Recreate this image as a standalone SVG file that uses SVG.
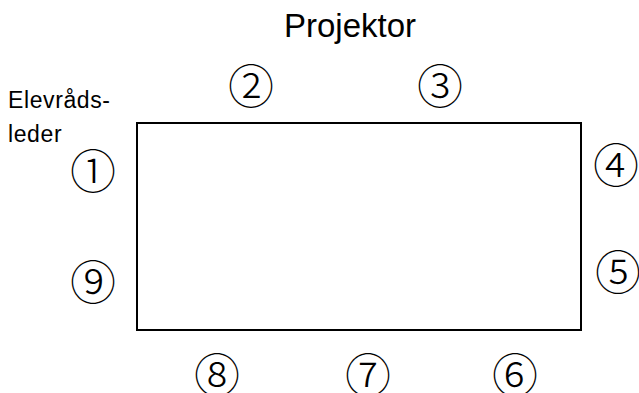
<svg xmlns="http://www.w3.org/2000/svg" width="639" height="393" viewBox="0 0 639 393">
<style>
.lbl{font-family:"Liberation Sans","Noto Sans",Arial,sans-serif;fill:#000}
.num{font-family:"Noto Sans CJK JP","DejaVu Sans",sans-serif;font-size:46px;font-weight:300;fill:#000;text-anchor:middle;dominant-baseline:central}
</style>
<rect width="639" height="393" fill="#fff"/>
<g id="table"><rect x="137" y="123" width="444" height="207" fill="none" stroke="#000" stroke-width="2"/></g>
<g id="projektor"><text class="lbl" x="350" y="37" font-size="33" text-anchor="middle">Projektor</text></g>
<g id="elevradsleder"><text class="lbl" x="8" y="108" font-size="23" letter-spacing="0.6">Elevråds-</text><text class="lbl" x="8" y="142" font-size="23" letter-spacing="0.6">leder</text></g>
<g id="n1"><text class="num" x="93" y="168">①</text></g>
<g id="n2"><text class="num" x="251" y="83">②</text></g>
<g id="n3"><text class="num" x="440" y="83">③</text></g>
<g id="n4"><text class="num" x="616" y="162">④</text></g>
<g id="n5"><text class="num" x="618" y="269">⑤</text></g>
<g id="n6"><text class="num" x="515" y="372">⑥</text></g>
<g id="n7"><text class="num" x="368" y="372">⑦</text></g>
<g id="n8"><text class="num" x="217" y="372">⑧</text></g>
<g id="n9"><text class="num" x="93" y="279">⑨</text></g>
<g id="connectors"></g>
</svg>
